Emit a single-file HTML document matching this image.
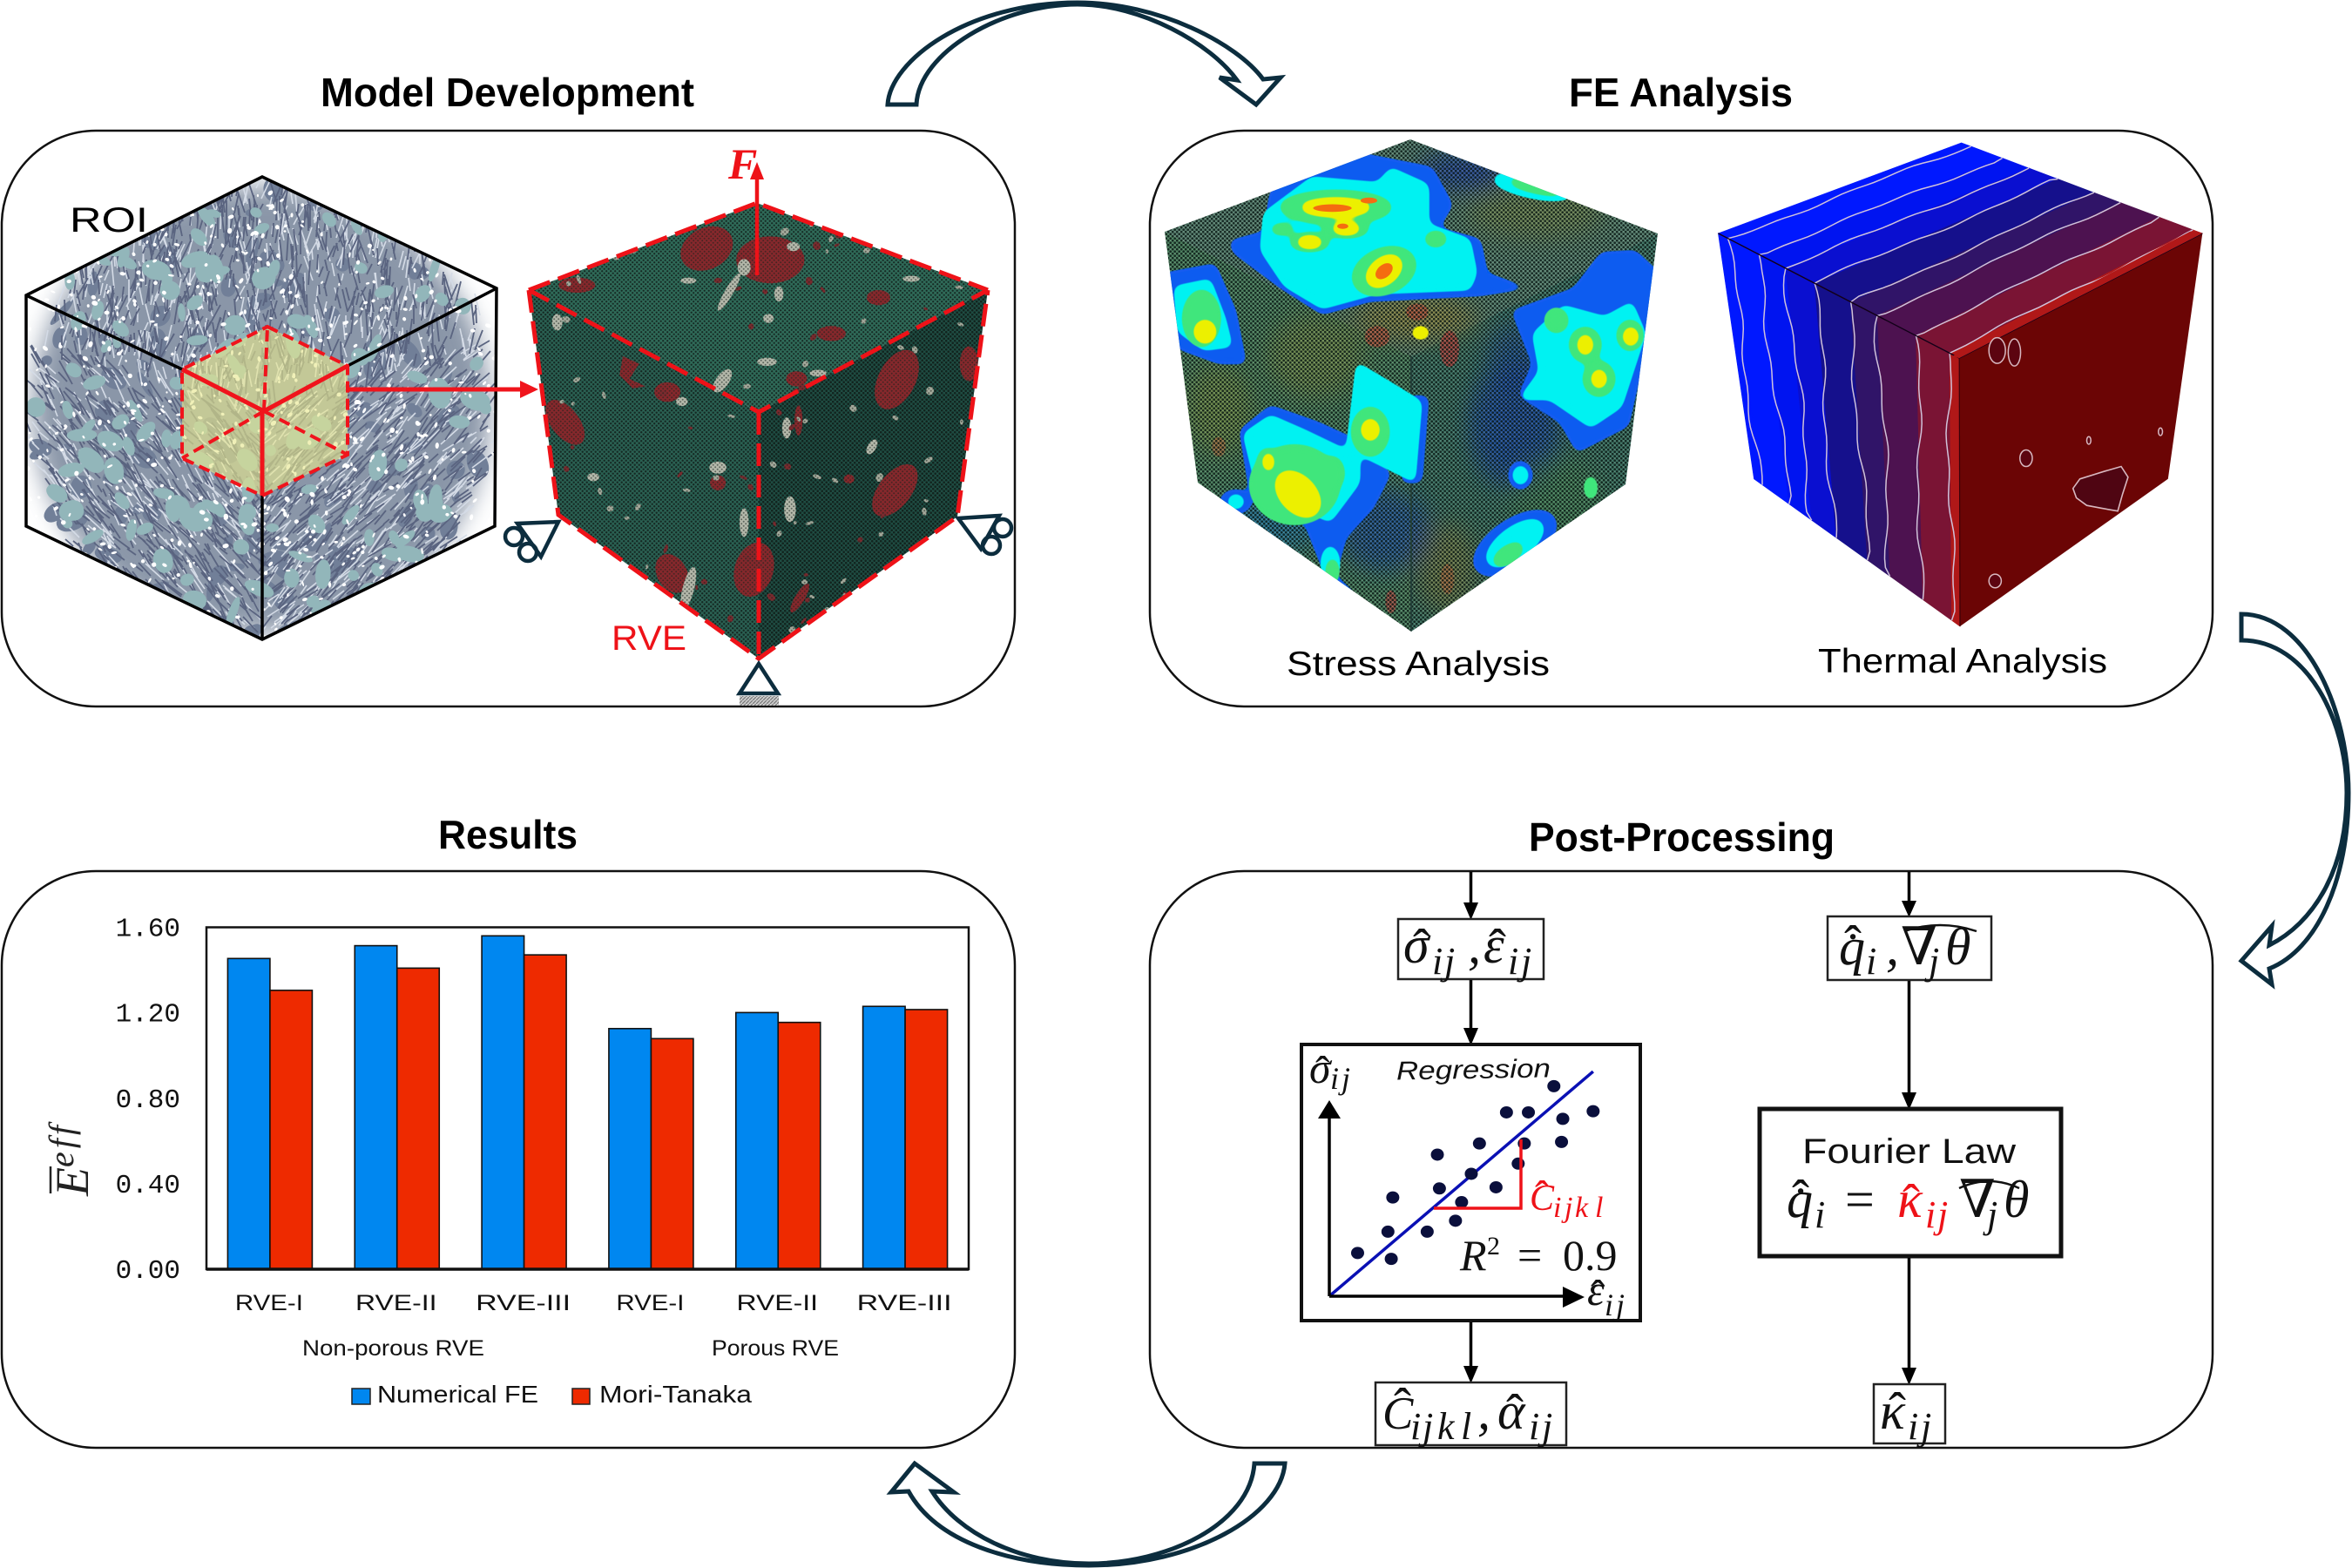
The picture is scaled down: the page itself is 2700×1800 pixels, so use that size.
<!DOCTYPE html>
<html lang="en">
<head>
<meta charset="utf-8">
<title>Homogenization workflow</title>
<style>
html,body{margin:0;padding:0;background:#fff;width:2700px;height:1800px;overflow:hidden}
svg{display:block}
.title{font:bold 46px "Liberation Sans",sans-serif;fill:#000}
.tick{font:31px "Liberation Mono",monospace;fill:#111}
.lab{font:25px "Liberation Sans",sans-serif;fill:#111}
.cap{font:39px "Liberation Sans",sans-serif;fill:#000}
.math{font:italic 60px "Liberation Serif","DejaVu Serif",serif;fill:#111}
.sub{font-size:44px}
.up{font-style:normal}
.flow{stroke:#000;stroke-width:3.5;fill:none}
.box{fill:#fff;stroke:#222;stroke-width:2.5}
.curve{fill:#fff;stroke:#0c2d3e;stroke-width:5;stroke-linejoin:miter}
</style>
</head>
<body>
<svg id="root" xmlns="http://www.w3.org/2000/svg" width="2700" height="1800" viewBox="0 0 2700 1800">
<defs>
  <pattern id="meshTop" width="5" height="5" patternUnits="userSpaceOnUse"><rect width="5" height="5" fill="#2f6a58"/><circle cx="1.2" cy="1.2" r="1.1" fill="#16332c"/><circle cx="3.7" cy="3.7" r="1.1" fill="#16332c"/></pattern>
  <pattern id="meshLeft" width="5" height="5" patternUnits="userSpaceOnUse"><rect width="5" height="5" fill="#2a6052"/><circle cx="1.2" cy="1.2" r="1.2" fill="#15302a"/><circle cx="3.7" cy="3.7" r="1.2" fill="#15302a"/></pattern>
  <pattern id="meshRight" width="5" height="5" patternUnits="userSpaceOnUse"><rect width="5" height="5" fill="#1f4c42"/><circle cx="1.2" cy="1.2" r="1.3" fill="#0f2520"/><circle cx="3.7" cy="3.7" r="1.3" fill="#0f2520"/></pattern>
  <pattern id="meshDots" width="5" height="5" patternUnits="userSpaceOnUse"><circle cx="1.2" cy="1.2" r="1" fill="#16201c" opacity=".55"/><circle cx="3.7" cy="3.7" r="1" fill="#16201c" opacity=".55"/></pattern>
  <pattern id="meshStress" width="5" height="5" patternUnits="userSpaceOnUse"><circle cx="1.2" cy="1.2" r="1.3" fill="#0c1a16" opacity=".85"/><circle cx="3.7" cy="3.7" r="1.3" fill="#0c1a16" opacity=".85"/><circle cx="3.7" cy="1.2" r=".6" fill="#a8c8b4" opacity=".4"/></pattern>
  <pattern id="hatch" width="4" height="4" patternUnits="userSpaceOnUse"><rect width="4" height="4" fill="#ccc"/><path d="M0 4L4 0" stroke="#777" stroke-width="1.2"/></pattern>
  <filter id="softer" x="-30%" y="-30%" width="160%" height="160%"><feGaussianBlur stdDeviation="14"/></filter>
  <filter id="patchBlur" x="-40%" y="-40%" width="180%" height="180%"><feGaussianBlur stdDeviation="16 30"/></filter>
  <filter id="goo" x="-15%" y="-15%" width="130%" height="130%"><feGaussianBlur stdDeviation="6 12"/><feComponentTransfer><feFuncA type="linear" slope="9" intercept="-3.6"/></feComponentTransfer></filter>
  <clipPath id="roiClip"><polygon points="301,203 570,331 568,604 301,734 30,604 30,339"/></clipPath>
  <clipPath id="rveClip"><polygon points="869,233 1134,333 1099,593 871,756 641,591 607,333"/></clipPath>
  <clipPath id="stressClip"><polygon points="1619,160 1903,268 1866,556 1620,725 1375,554 1337,266"/></clipPath>
</defs>

<rect x="0" y="0" width="2700" height="1800" fill="#fff"/>

<!-- PANELS -->
<rect x="2" y="150" width="1163" height="661" rx="108" ry="108" fill="#fff" stroke="#111" stroke-width="2.5"/>
<rect x="1320" y="150" width="1220" height="661" rx="108" ry="108" fill="#fff" stroke="#111" stroke-width="2.5"/>
<rect x="2" y="1000" width="1163" height="662" rx="108" ry="108" fill="#fff" stroke="#111" stroke-width="2.5"/>
<rect x="1320" y="1000" width="1220" height="662" rx="108" ry="108" fill="#fff" stroke="#111" stroke-width="2.5"/>

<!-- TITLES -->
<text class="title" x="368" y="122" textLength="429" lengthAdjust="spacingAndGlyphs">Model Development</text>
<text class="title" x="1801" y="122" textLength="257" lengthAdjust="spacingAndGlyphs">FE Analysis</text>
<text class="title" x="503" y="974" textLength="160" lengthAdjust="spacingAndGlyphs">Results</text>
<text class="title" x="1755" y="977" textLength="351" lengthAdjust="spacingAndGlyphs">Post-Processing</text>

<!-- CURVED ARROWS -->
<path class="curve" d="M1019,120 C1022,70 1110,3 1237,3 C1330,3 1420,50 1450,91 L1470,89 L1442,120 L1400,89 L1420,92 C1390,50 1310,5 1237,5 C1150,5 1055,60 1052,120 Z"/>
<path class="curve" d="M2573,705 C2650,705 2696,820 2696,910 C2696,1010 2660,1090 2605,1112 L2608,1130 L2573,1103 L2608,1063 L2605,1085 C2655,1060 2694,1000 2694,910 C2694,830 2650,735 2573,735 Z"/>
<path class="curve" d="M1475,1680 C1470,1740 1370,1797 1250,1797 C1160,1797 1075,1770 1043,1712 L1023,1713 L1050,1680 L1095,1713 L1070,1712 C1100,1760 1170,1795 1250,1795 C1340,1795 1435,1750 1440,1680 Z"/>

<!-- ROI CUBE -->
<g id="roiGroup">
  <g clip-path="url(#roiClip)">
    <ellipse cx="300" cy="470" rx="262" ry="256" fill="#8a96a8" filter="url(#softer)"/>
    <path id="roiTeal2" fill="#717f98"/>
    <path id="roiLight" fill="none" stroke="#d4dbe6" stroke-width="1.6"/>
    <path id="roiDark" fill="none" stroke="#5a6480" stroke-width="1.8"/>
    <path id="roiTeal" fill="#92b6ba"/>
    <path id="roiSpeck" fill="#fff"/>
  </g>
  <polygon points="307,375 399,420 399,522 301,569 209,526 209,424" fill="#e6e68c" opacity=".62"/>
  <g fill="none" stroke="#000" stroke-width="3.5">
    <polygon points="301,203 570,331 568,604 301,734 30,604 30,339" stroke-linejoin="miter"/>
    <line x1="30" y1="339" x2="209" y2="424"/>
    <line x1="570" y1="331" x2="399" y2="420"/>
    <line x1="301" y1="569" x2="301" y2="734"/>
  </g>
  <g fill="none" stroke="#f0141c" stroke-width="4" stroke-dasharray="13 7">
    <polygon points="307,375 399,420 399,522 301,569 209,526 209,424"/>
    <line x1="303" y1="472" x2="307" y2="375"/>
    <line x1="303" y1="472" x2="399" y2="522"/>
    <line x1="303" y1="472" x2="209" y2="526"/>
  </g>
  <g stroke="#f0141c" stroke-width="5">
    <line x1="303" y1="472" x2="399" y2="420"/>
    <line x1="303" y1="472" x2="209" y2="424"/>
    <line x1="301" y1="472" x2="301" y2="569"/>
  </g>
</g>
<text x="80" y="266" font-family="Liberation Sans, sans-serif" font-size="40" textLength="90" lengthAdjust="spacingAndGlyphs" fill="#000">ROI</text>
<line x1="399" y1="447" x2="600" y2="447" stroke="#f0141c" stroke-width="5"/>
<polygon points="618,447 597,437 597,457" fill="#f0141c"/>

<!-- RVE CUBE -->
<g>
  <polygon points="869,233 1134,333 871,473 607,333" fill="url(#meshTop)"/>
  <polygon points="607,333 871,473 871,756 641,591" fill="url(#meshLeft)"/>
  <polygon points="871,473 1134,333 1099,593 871,756" fill="url(#meshRight)"/>
  <g clip-path="url(#rveClip)">
    <g transform="translate(0,140) scale(.7526,.4337)">
      <g fill="#86282c">
        <ellipse cx="1078" cy="335" rx="38" ry="60" transform="rotate(15 1078 335)"/>
        <ellipse cx="1175" cy="365" rx="52" ry="62"/>
        <ellipse cx="880" cy="432" rx="28" ry="20"/>
        <ellipse cx="1268" cy="560" rx="22" ry="20"/>
        <ellipse cx="1340" cy="465" rx="18" ry="20"/>
        <ellipse cx="1215" cy="680" rx="16" ry="20"/>
        <ellipse cx="862" cy="795" rx="24" ry="62" transform="rotate(-18 862 795)"/>
        <path d="M950 620 L975 640 L960 680 L985 700 L965 705 L945 670 Z"/>
        <ellipse cx="1018" cy="715" rx="20" ry="26"/>
        <ellipse cx="1025" cy="1195" rx="24" ry="52" transform="rotate(-10 1025 1195)"/>
        <ellipse cx="1150" cy="1185" rx="30" ry="72" transform="rotate(6 1150 1185)"/>
        <ellipse cx="1095" cy="955" rx="12" ry="20"/>
        <ellipse cx="1368" cy="682" rx="30" ry="80" transform="rotate(12 1368 682)"/>
        <ellipse cx="1365" cy="975" rx="28" ry="72" transform="rotate(18 1365 975)"/>
        <ellipse cx="1478" cy="640" rx="14" ry="46"/>
        <ellipse cx="1218" cy="790" rx="6" ry="40"/>
        <ellipse cx="1220" cy="1260" rx="8" ry="40" transform="rotate(18 1220 1260)"/>
        <ellipse cx="1295" cy="945" rx="8" ry="12"/>
      </g>
      <g fill="#b4b8aa">
        <ellipse cx="1112" cy="450" rx="7" ry="52" transform="rotate(18 1112 450)"/>
        <ellipse cx="1135" cy="385" rx="10" ry="22"/>
        <ellipse cx="1188" cy="455" rx="7" ry="20"/>
        <ellipse cx="1170" cy="635" rx="15" ry="11"/>
        <ellipse cx="1248" cy="665" rx="13" ry="9"/>
        <ellipse cx="1102" cy="685" rx="11" ry="32" transform="rotate(18 1102 685)"/>
        <ellipse cx="1172" cy="520" rx="8" ry="12"/>
        <ellipse cx="1050" cy="420" rx="12" ry="8"/>
        <ellipse cx="1390" cy="415" rx="13" ry="8"/>
        <ellipse cx="1210" cy="330" rx="10" ry="12"/>
        <ellipse cx="1095" cy="915" rx="13" ry="16"/>
        <ellipse cx="1050" cy="1235" rx="9" ry="58" transform="rotate(8 1050 1235)"/>
        <ellipse cx="1135" cy="1060" rx="7" ry="38"/>
        <ellipse cx="1205" cy="1025" rx="9" ry="34"/>
        <ellipse cx="1330" cy="860" rx="7" ry="20" transform="rotate(15 1330 860)"/>
        <ellipse cx="1040" cy="740" rx="9" ry="12"/>
        <ellipse cx="905" cy="940" rx="9" ry="11"/>
        <ellipse cx="850" cy="530" rx="8" ry="22"/>
        <ellipse cx="1200" cy="810" rx="7" ry="28"/>
      </g>
    </g>
    <path id="rveRed" fill="#7a2a2e"/>
    <path id="rveGrey" fill="#a3a89a"/>
    <polygon points="869,233 1134,333 1099,593 871,756 641,591 607,333" fill="url(#meshDots)"/>
  </g>
  <g fill="none" stroke="#ee1218" stroke-width="5" stroke-dasharray="26 10">
    <polyline points="607,333 869,233 1134,333"/>
    <polyline points="607,333 871,473 1134,333"/>
    <polyline points="607,333 641,591 871,756 1099,593 1134,333"/>
    <line x1="871" y1="473" x2="871" y2="756"/>
  </g>
</g>
<line x1="869" y1="316" x2="869" y2="200" stroke="#ee1218" stroke-width="4.5"/>
<polygon points="869,186 861,206 877,206" fill="#ee1218"/>
<text x="836" y="205" font-family="Liberation Serif, serif" font-style="italic" font-weight="bold" font-size="50" fill="#ee1218">F</text>
<text x="702" y="746" font-family="Liberation Sans, sans-serif" font-size="40" textLength="86" lengthAdjust="spacingAndGlyphs" fill="#ee1218">RVE</text>
<g fill="none" stroke="#0c2d3e" stroke-width="4.5">
  <polygon points="871,762 849,796 893,796"/>
  <polygon points="641,599 594,601 621,639"/>
  <circle cx="590" cy="616" r="10"/><circle cx="606" cy="634" r="10"/>
  <polygon points="1100,595 1147,592 1126,630"/>
  <circle cx="1151" cy="606" r="10"/><circle cx="1138" cy="626" r="10"/>
</g>
<rect x="849" y="799" width="45" height="11" fill="url(#hatch)"/>

<!-- STRESS CUBE -->
<g>
  <polygon points="1619,160 1903,268 1620,409 1337,266" fill="#5a8070"/>
  <polygon points="1337,266 1620,409 1620,725 1375,554" fill="#4e8060"/>
  <polygon points="1620,409 1903,268 1866,556 1620,725" fill="#427566"/>
  <g clip-path="url(#stressClip)">
    <g transform="translate(1320,140) scale(.7908,.4337)" filter="url(#patchBlur)">
      <ellipse cx="100" cy="760" rx="50" ry="120" fill="#7e8a3c" opacity=".6"/>
      <ellipse cx="240" cy="620" rx="70" ry="110" fill="#84883e" opacity=".55"/>
      <ellipse cx="430" cy="1180" rx="45" ry="120" fill="#8a7e3a" opacity=".6"/>
      <ellipse cx="560" cy="240" rx="100" ry="70" fill="#84883c" opacity=".5"/>
      <ellipse cx="530" cy="800" rx="65" ry="170" fill="#1e4aa0" opacity=".85"/>
      <ellipse cx="340" cy="1080" rx="65" ry="110" fill="#2050a0" opacity=".75"/>
      <ellipse cx="385" cy="520" rx="90" ry="60" fill="#96863e" opacity=".75"/>
      <ellipse cx="590" cy="1000" rx="70" ry="120" fill="#508a50" opacity=".5"/>
      <ellipse cx="180" cy="1060" rx="80" ry="80" fill="#2070a0" opacity=".75"/>
      <ellipse cx="455" cy="130" rx="65" ry="50" fill="#2040a0" opacity=".8"/>
      <ellipse cx="540" cy="620" rx="50" ry="90" fill="#1e4aa0" opacity=".6"/>
    </g>
    <g transform="translate(1320,140) scale(.7908,.4337)">
      <ellipse cx="330" cy="568" rx="18" ry="28" fill="#b0503c" opacity=".8"/>
      <ellipse cx="388" cy="503" rx="16" ry="22" fill="#b0503c" opacity=".8"/>
      <ellipse cx="435" cy="600" rx="14" ry="48" fill="#b0403c" opacity=".8"/>
      <ellipse cx="350" cy="1270" rx="8" ry="30" fill="#b0403c" opacity=".7"/>
      <ellipse cx="432" cy="1210" rx="10" ry="40" fill="#b0603c" opacity=".6"/>
      <ellipse cx="100" cy="860" rx="10" ry="26" fill="#b0603c" opacity=".6"/>
    </g>
    <polygon points="1619,160 1903,268 1866,556 1620,725 1375,554 1337,266" fill="url(#meshStress)"/>
    <line x1="1620" y1="409" x2="1620" y2="725" stroke="#24403a" stroke-width="2"/>
    <g transform="translate(1320,140) scale(.7908,.4337)">
      <g fill="#0a5cf0" filter="url(#goo)">
        <polygon points="300,80 410,120 440,220 420,280 480,310 490,400 550,440 480,460 320,475 250,510 190,440 120,345 115,315 165,290 175,180"/>
        <polygon points="20,400 95,375 125,500 140,640 100,640 40,600"/>
        <polygon points="525,500 615,440 655,345 705,340 740,400 725,560 695,805 620,875 595,795 535,725 555,640"/>
        <polygon points="130,815 175,750 245,795 305,845 350,930 325,1020 285,1100 270,1200 310,1270 265,1250 225,1065 145,985"/>
        <polygon points="375,725 405,725 395,955 365,955"/>
        <ellipse cx="538" cy="935" rx="18" ry="38"/>
        <ellipse cx="530" cy="1115" rx="46" ry="96" transform="rotate(28 530 1115)"/>
        <ellipse cx="125" cy="1005" rx="24" ry="32"/>
        <ellipse cx="375" cy="145" rx="38" ry="36"/>
      </g>
      <g fill="#00f2f2" filter="url(#goo)">
        <polygon points="235,145 330,160 350,120 405,165 405,270 465,310 475,400 465,445 330,455 250,495 195,435 160,340 165,240"/>
        <polygon points="35,435 88,415 110,520 120,595 78,605 40,555"/>
        <polygon points="555,560 600,485 660,515 700,475 720,560 685,755 640,810 580,735 535,735 565,660"/>
        <polygon points="300,635 355,695 395,740 385,955 330,905 285,865"/>
        <polygon points="135,825 175,775 225,815 305,885 305,955 262,1060 155,975"/>
        <ellipse cx="538" cy="935" rx="12" ry="26"/>
        <ellipse cx="530" cy="1115" rx="30" ry="70" transform="rotate(28 530 1115)"/>
        <ellipse cx="125" cy="1005" rx="13" ry="20"/>
        <ellipse cx="555" cy="172" rx="62" ry="28" transform="rotate(25 555 172)"/>
        <ellipse cx="262" cy="1170" rx="14" ry="48"/>
      </g>
      <g fill="#3fe67c" filter="url(#goo)">
        <ellipse cx="270" cy="226" rx="82" ry="46"/>
        <ellipse cx="285" cy="282" rx="34" ry="26"/>
        <ellipse cx="232" cy="318" rx="30" ry="26"/>
        <ellipse cx="340" cy="395" rx="44" ry="68" transform="rotate(18 340 395)"/>
        <ellipse cx="192" cy="284" rx="18" ry="16"/>
        <ellipse cx="415" cy="310" rx="17" ry="22"/>
        <ellipse cx="75" cy="520" rx="28" ry="76"/>
        <ellipse cx="632" cy="590" rx="24" ry="48"/>
        <ellipse cx="652" cy="680" rx="24" ry="48"/>
        <ellipse cx="590" cy="525" rx="18" ry="34"/>
        <ellipse cx="697" cy="565" rx="20" ry="42"/>
        <ellipse cx="320" cy="820" rx="28" ry="66"/>
        <ellipse cx="210" cy="960" rx="66" ry="106"/>
        <ellipse cx="265" cy="930" rx="18" ry="46"/>
        <ellipse cx="170" cy="900" rx="15" ry="38"/>
        <ellipse cx="520" cy="1145" rx="17" ry="36" transform="rotate(28 520 1145)"/>
        <ellipse cx="640" cy="968" rx="10" ry="32"/>
        <ellipse cx="265" cy="1190" rx="10" ry="36"/>
        <ellipse cx="560" cy="172" rx="44" ry="16" transform="rotate(25 560 172)"/>
      </g>
      <g fill="#ecf000" filter="url(#goo)">
        <ellipse cx="270" cy="226" rx="52" ry="26"/>
        <ellipse cx="285" cy="282" rx="22" ry="18"/>
        <ellipse cx="232" cy="318" rx="20" ry="18"/>
        <ellipse cx="340" cy="395" rx="24" ry="46" transform="rotate(18 340 395)"/>
        <ellipse cx="80" cy="555" rx="17" ry="32"/>
        <ellipse cx="632" cy="590" rx="12" ry="28"/>
        <ellipse cx="652" cy="680" rx="12" ry="26"/>
        <ellipse cx="698" cy="568" rx="12" ry="26"/>
        <ellipse cx="320" cy="815" rx="14" ry="30"/>
        <ellipse cx="215" cy="985" rx="30" ry="64" transform="rotate(-15 215 985)"/>
        <ellipse cx="172" cy="900" rx="9" ry="26"/>
        <ellipse cx="393" cy="558" rx="14" ry="18"/>
      </g>
      <g fill="#f56c10">
        <ellipse cx="265" cy="228" rx="28" ry="10"/>
        <ellipse cx="318" cy="208" rx="12" ry="8"/>
        <ellipse cx="280" cy="276" rx="8" ry="7"/>
        <ellipse cx="340" cy="395" rx="11" ry="22" transform="rotate(18 340 395)"/>
      </g>
    </g>
  </g>
</g>

<!-- THERMAL CUBE -->
<g id="thermalGroup"></g>

<text class="cap" x="1477" y="775" textLength="302" lengthAdjust="spacingAndGlyphs">Stress Analysis</text>
<text class="cap" x="2087" y="772" textLength="332" lengthAdjust="spacingAndGlyphs">Thermal Analysis</text>

<!-- BAR CHART -->
<g id="chart"></g>
<g transform="translate(101,1373) rotate(-90)">
  <text font-family="Liberation Serif, serif" font-style="italic" font-size="54" fill="#222">E<tspan font-size="40" dy="-17" letter-spacing="4">eff</tspan></text>
  <line x1="3" y1="-43" x2="34" y2="-43" stroke="#222" stroke-width="2.5"/>
</g>

<!-- POST PROCESSING FLOW -->
<g>
  <g class="flow">
    <line x1="1688.5" y1="1001" x2="1688.5" y2="1040"/>
    <line x1="1688.5" y1="1124" x2="1688.5" y2="1184"/>
    <line x1="1688.5" y1="1516" x2="1688.5" y2="1572"/>
    <line x1="2191.5" y1="1001" x2="2191.5" y2="1038"/>
    <line x1="2191.5" y1="1125" x2="2191.5" y2="1258"/>
    <line x1="2191.5" y1="1442" x2="2191.5" y2="1574"/>
  </g>
  <g fill="#000">
    <polygon points="1688.5,1056 1680,1036 1697,1036"/>
    <polygon points="1688.5,1200 1680,1180 1697,1180"/>
    <polygon points="1688.5,1588 1680,1568 1697,1568"/>
    <polygon points="2191.5,1053 2183,1034 2200,1034"/>
    <polygon points="2191.5,1274 2183,1254 2200,1254"/>
    <polygon points="2191.5,1590 2183,1570 2200,1570"/>
  </g>
  <rect class="box" x="1605" y="1055" width="167" height="69"/>
  <text class="math"><tspan x="1611" y="1105">σ</tspan><tspan class="up" x="1622" y="1108">ˆ</tspan><tspan class="sub" x="1644 1658" y="1118">ij</tspan><tspan x="1685" y="1105">,</tspan><tspan x="1703" y="1105">ε</tspan><tspan class="up" x="1709" y="1108">ˆ</tspan><tspan class="sub" x="1731 1746" y="1118">ij</tspan></text>
  <rect class="box" x="2098" y="1052" width="188" height="73"/>
  <text class="math"><tspan x="2111" y="1107">q</tspan><tspan class="up" x="2117" y="1104">ˆ</tspan><tspan class="up" x="2117" y="1112">˙</tspan><tspan class="sub" x="2142" y="1118">i</tspan><tspan x="2165" y="1107">,</tspan><tspan class="up" x="2182" y="1107">∇</tspan><tspan class="sub" x="2214" y="1118">j</tspan><tspan x="2233" y="1107">θ</tspan></text>
  <path d="M2186,1069 Q2227,1055 2269,1069" fill="none" stroke="#111" stroke-width="2.5"/>

  <rect x="1494" y="1199" width="389" height="317" fill="#fff" stroke="#111" stroke-width="4"/>
  <g id="regression"></g>
  <text x="1603" y="1238" font-family="Liberation Sans, sans-serif" font-style="italic" font-size="30" textLength="177" lengthAdjust="spacingAndGlyphs" transform="rotate(-1 1690 1230)" fill="#111">Regression</text>
  <text class="math" style="font-size:50px"><tspan x="1503" y="1243">σ</tspan><tspan class="up" x="1510" y="1247">ˆ</tspan><tspan x="1527 1540" y="1250" style="font-size:36px">ij</tspan></text>
  <text class="math" style="font-size:50px"><tspan x="1822" y="1498">ε</tspan><tspan class="up" x="1826" y="1504">ˆ</tspan><tspan x="1842 1855" y="1510" style="font-size:36px">ij</tspan></text>
  <text class="math" style="font-size:50px"><tspan x="1676" y="1458">R</tspan><tspan class="up" x="1707" y="1440" style="font-size:30px">2</tspan><tspan class="up" x="1742" y="1458">=</tspan><tspan class="up" x="1794" y="1458">0.9</tspan></text>
  <text class="math" style="font-size:50px;fill:#ee1218"><tspan x="1756" y="1389" style="font-size:42px">C</tspan><tspan class="up" x="1762" y="1390">ˆ</tspan><tspan x="1783 1796 1808 1831" y="1397" style="font-size:34px">ijkl</tspan></text>

  <rect class="box" x="1579" y="1587" width="219" height="72"/>
  <text class="math"><tspan x="1587" y="1640" style="font-size:53px">C</tspan><tspan class="up" x="1600" y="1635">ˆ</tspan><tspan class="sub" x="1619 1633 1650 1677" y="1652">ijkl</tspan><tspan x="1696" y="1640">,</tspan><tspan x="1719" y="1640">α</tspan><tspan class="up" x="1729" y="1642">ˆ</tspan><tspan class="sub" x="1755 1770" y="1652">ij</tspan></text>
  <rect x="2020" y="1273" width="346" height="169" fill="#fff" stroke="#111" stroke-width="5"/>
  <text x="2069" y="1335" font-family="Liberation Sans, sans-serif" font-size="40" textLength="245" lengthAdjust="spacingAndGlyphs" fill="#111">Fourier Law</text>
  <text class="math"><tspan x="2051" y="1397">q</tspan><tspan class="up" x="2057" y="1396">ˆ</tspan><tspan class="up" x="2057" y="1404">˙</tspan><tspan class="sub" x="2083" y="1409">i</tspan><tspan class="up" x="2118" y="1397">=</tspan><tspan x="2178" y="1397" fill="#ee1218">κ</tspan><tspan class="up" x="2184" y="1401" fill="#ee1218">ˆ</tspan><tspan class="sub" x="2210 2224" y="1409" fill="#ee1218">ij</tspan><tspan class="up" x="2249" y="1397">∇</tspan><tspan class="sub" x="2281" y="1409">j</tspan><tspan x="2300" y="1397">θ</tspan></text>
  <path d="M2249,1364 Q2284,1348 2318,1364" fill="none" stroke="#111" stroke-width="2.5"/>
  <rect class="box" x="2151" y="1589" width="82" height="68"/>
  <text class="math"><tspan x="2158" y="1640">κ</tspan><tspan class="up" x="2168" y="1640">ˆ</tspan><tspan class="sub" x="2190 2205" y="1652">ij</tspan></text>
</g>

<script>
// ---- bar chart data ----
const categories = ['RVE-I','RVE-II','RVE-III','RVE-I','RVE-II','RVE-III'];
const numericalFE = [1.454,1.514,1.56,1.126,1.201,1.23];
const moriTanaka = [1.305,1.409,1.471,1.079,1.155,1.215];
const yTickValues = [0,0.4,0.8,1.2,1.6];
const yTickLabels = ['0.00','0.40','0.80','1.20','1.60'];
const groupLabels = ['Non-porous RVE','Porous RVE'];
const seriesNames = ['Numerical FE','Mori-Tanaka'];

// ---- regression scatter data (normalised strain / stress) ----
const strainValues = [.111,.243,.230,.384,.495,.249,.432,.519,.654,.557,.424,.741,.589,.765,.911,.695,.781,.916,1.035,.881];
const stressValues = [.221,.191,.330,.330,.386,.505,.551,.481,.557,.626,.724,.678,.781,.781,.789,.940,.940,.907,.946,1.074];
const fitStrain = [0,1.035];
const fitStress = [0,1.149];

const NS = 'http://www.w3.org/2000/svg';
function mk(tag, parent, attrs){
  const el = document.createElementNS(NS, tag);
  for (const k in attrs) el.setAttribute(k, attrs[k]);
  parent.appendChild(el);
  return el;
}

// ---- chart ----
const chart = document.getElementById('chart');
const plotL = 237, plotR = 1112, plotT = 1064.5, plotB = 1457;
const yMax = 1.6;
function yScale(v){ return plotB - v / yMax * (plotB - plotT); }
function xScale(i){ return plotL + (plotR - plotL) * (i + 0.5) / categories.length; }
const barW = 48.5;

const frame = mk('rect', chart, {x:plotL, y:plotT, width:plotR-plotL, height:plotB-plotT, fill:'#fff', stroke:'#111', 'stroke-width':2.5});



categories.forEach(function(cat, i){
  const c = xScale(i);
  const blue = mk('rect', chart, {x:c-barW, y:yScale(numericalFE[i]), width:barW, height:plotB-yScale(numericalFE[i]), fill:'#0087f0', stroke:'#111', 'stroke-width':1.6});
  
  
  const red = mk('rect', chart, {x:c, y:yScale(moriTanaka[i]), width:barW, height:plotB-yScale(moriTanaka[i]), fill:'#ee2a00', stroke:'#111', 'stroke-width':1.6});
  
  
  const lab = mk('text', chart, {x:c-1, y:1504, 'text-anchor':'middle', 'class':'lab', textLength:78 + (cat.length-5)*15.5, lengthAdjust:'spacingAndGlyphs'});
  lab.textContent = cat;
  
  
});
const baseLine = mk('line', chart, {x1:plotL, x2:plotR, y1:plotB, y2:plotB, stroke:'#111', 'stroke-width':3.5});



yTickValues.forEach(function(v, i){
  const t = mk('text', chart, {x:207, y:yScale(v)+10, 'text-anchor':'end', 'class':'tick'});
  t.textContent = yTickLabels[i];
  
  
});

const g0 = mk('text', chart, {x:347, y:1556, 'class':'lab', textLength:209, lengthAdjust:'spacingAndGlyphs'});
g0.textContent = groupLabels[0];


const g1 = mk('text', chart, {x:817, y:1556, 'class':'lab', textLength:146, lengthAdjust:'spacingAndGlyphs'});
g1.textContent = groupLabels[1];



const sw0 = mk('rect', chart, {x:404, y:1594, width:21, height:18, fill:'#0087f0', stroke:'#222', 'stroke-width':1.5});


const lg0 = mk('text', chart, {x:433, y:1610, 'class':'lab', textLength:185, lengthAdjust:'spacingAndGlyphs', style:'font-size:28px'});
lg0.textContent = seriesNames[0];


const sw1 = mk('rect', chart, {x:657, y:1594, width:20, height:18, fill:'#ee2a00', stroke:'#222', 'stroke-width':1.5});


const lg1 = mk('text', chart, {x:688, y:1610, 'class':'lab', textLength:175, lengthAdjust:'spacingAndGlyphs', style:'font-size:28px'});
lg1.textContent = seriesNames[1];



// ---- regression plot ----
const reg = document.getElementById('regression');
const regX0 = 1526, regY0 = 1488, regXLen = 292.6, regYLen = 224.5;
function strainX(v){ return regX0 + v * regXLen; }
function stressY(v){ return regY0 - v * regYLen; }

const fitLine = mk('line', reg, {x1:strainX(fitStrain[0]), y1:stressY(fitStress[0]), x2:strainX(fitStrain[1]), y2:stressY(fitStress[1]), stroke:'#0a10b4', 'stroke-width':3.5});


const xAxisReg = mk('line', reg, {x1:regX0, y1:regY0, x2:1800, y2:regY0, stroke:'#000', 'stroke-width':3.5});


const yAxisReg = mk('line', reg, {x1:regX0, y1:regY0, x2:regX0, y2:1280, stroke:'#000', 'stroke-width':3.5});


const xHead = mk('polygon', reg, {points:'1819,1489 1794,1477 1794,1501', fill:'#000'});


const yHead = mk('polygon', reg, {points:'1526,1263 1513,1284 1539,1284', fill:'#000'});


strainValues.forEach(function(v, i){
  const d = mk('ellipse', reg, {cx:strainX(v), cy:stressY(stressValues[i]), rx:7.5, ry:7, fill:'#0a0f3c'});
  
  
});
const slopeMark = mk('path', reg, {d:'M1646,1387 H1746 V1308', fill:'none', stroke:'#ee1218', 'stroke-width':3.5});



// ---- decorative textures (fixed-seed) ----
let seed = 12345;
function rnd(){ seed = (seed * 16807) % 2147483647; return seed / 2147483647; }
function ell(cx, cy, rx, ry, rot){
  const c = Math.cos(rot), s = Math.sin(rot), r = (rot * 180 / Math.PI).toFixed(0);
  const dx = rx * c, dy = rx * s;
  return 'M' + (cx-dx).toFixed(1) + ' ' + (cy-dy).toFixed(1) +
    'A' + rx.toFixed(1) + ' ' + ry.toFixed(1) + ' ' + r + ' 1 0 ' + (cx+dx).toFixed(1) + ' ' + (cy+dy).toFixed(1) +
    'A' + rx.toFixed(1) + ' ' + ry.toFixed(1) + ' ' + r + ' 1 0 ' + (cx-dx).toFixed(1) + ' ' + (cy-dy).toFixed(1) + 'Z';
}
function inCloud(x, y){
  const a = (x-300)/262, b = (y-470)/256;
  return a*a + b*b < 0.92 + rnd()*0.2;
}
let dDark = '', dLight = '', dTeal = '', dTeal2 = '', dSpeck = '';
for (let i = 0; i < 3600; i++){
  const x = 30 + rnd()*540, y = 203 + rnd()*531;
  if (!inCloud(x, y)) continue;
  let ang;
  if (y < 470 - Math.abs(x-300)*0.3) ang = 1.2 + rnd()*0.9;
  else if (x < 301) ang = 0.6 + rnd()*0.6;
  else ang = 2.1 + rnd()*0.5;
  const len = 4 + rnd()*12;
  const seg = 'M' + (x-Math.cos(ang)*len).toFixed(0) + ' ' + (y-Math.sin(ang)*len).toFixed(0) + 'L' + (x+Math.cos(ang)*len).toFixed(0) + ' ' + (y+Math.sin(ang)*len).toFixed(0);
  if (rnd() < 0.6) dDark += seg; else dLight += seg;
}
for (let i = 0; i < 170; i++){
  const x = 30 + rnd()*540, y = 203 + rnd()*531;
  if (!inCloud(x, y)) continue;
  dTeal += ell(x, y, 5 + rnd()*13, 4 + rnd()*8, rnd()*3.14);
}
for (let i = 0; i < 160; i++){
  const x = 30 + rnd()*540, y = 203 + rnd()*531;
  if (!inCloud(x, y)) continue;
  dTeal2 += ell(x, y, 5 + rnd()*14, 4 + rnd()*9, rnd()*3.14);
}
for (let i = 0; i < 800; i++){
  const x = 30 + rnd()*540, y = 203 + rnd()*531;
  dSpeck += ell(x, y, 1 + rnd()*2.6, 1 + rnd()*1.4, rnd()*3.14);
}
document.getElementById('roiDark').setAttribute('d', dDark);
document.getElementById('roiLight').setAttribute('d', dLight);
document.getElementById('roiTeal').setAttribute('d', dTeal);
document.getElementById('roiTeal2').setAttribute('d', dTeal2);
document.getElementById('roiSpeck').setAttribute('d', dSpeck);

let dRed = '', dGrey = '';
for (let i = 0; i < 130; i++){
  const x = 610 + rnd()*520, y = 235 + rnd()*520;
  const e = ell(x, y, 1.5 + rnd()*4, 1.5 + rnd()*2.5, rnd()*3.14);
  if (rnd() < 0.5) dRed += e; else dGrey += e;
}
document.getElementById('rveRed').setAttribute('d', dRed);
document.getElementById('rveGrey').setAttribute('d', dGrey);

// ---- thermal cube (interpolated faces) ----
const th = document.getElementById('thermalGroup');
function Z(x, y){ return [1320 + x * 0.7908, 140 + y * 0.4337]; }
const tL = Z(825,295), tT = Z(1178,55), tR = Z(1528,295), tC = Z(1175,625), tB = Z(1176,1335), tLB = Z(877,945), tRB = Z(1478,945);
function lerp(a, b, t){ return [a[0] + (b[0]-a[0])*t, a[1] + (b[1]-a[1])*t]; }
function pts(list){ return list.map(function(p){ return p[0].toFixed(1) + ',' + p[1].toFixed(1); }).join(' '); }
const bandBreaks = [0,.04,.17,.28,.40,.55,.66,.82,.96,1];
const bandColors = ['#0018ff','#0018ff','#0014f0','#0a0fd0','#15108c','#301468','#4d1250','#7a1434','#b01818'];
for (let i = 0; i < bandColors.length; i++){
  const a = bandBreaks[i], b = bandBreaks[i+1];
  const top = mk('polygon', th, {points:pts([lerp(tL,tC,a), lerp(tL,tC,b), lerp(tT,tR,b), lerp(tT,tR,a)]), fill:bandColors[i], stroke:bandColors[i], 'stroke-width':.6});
  
  
  const left = mk('polygon', th, {points:pts([lerp(tL,tC,a), lerp(tL,tC,b), lerp(tLB,tB,b), lerp(tLB,tB,a)]), fill:bandColors[i], stroke:bandColors[i], 'stroke-width':.6});
  
  
}
const rightFace = mk('polygon', th, {points:pts([tC,tR,tRB,tB]), fill:'#6b0505'});


function wavy(a, b, n, amp, ph, vertical){
  const out = [];
  for (let k = 0; k <= n; k++){
    const t = k / n;
    const p = lerp(a, b, t);
    const w = k === 0 || k === n ? 0 : amp * (Math.sin(t*7 + ph) + 0.5*Math.sin(t*23 + ph*2));
    out.push(vertical ? [p[0] + w, p[1]] : [p[0], p[1] + w]);
  }
  return out;
}
bandBreaks.slice(1, -1).forEach(function(t, i){
  const p = lerp(tL, tC, t);
  const q = lerp(tT, tR, t);
  const r = lerp(tLB, tB, t);
  const c1 = mk('polyline', th, {points:pts(wavy(p, q, 30, 2, i*1.3, false)), fill:'none', stroke:'#d0c2da', 'stroke-width':1.5});
  
  
  const c2 = mk('polyline', th, {points:pts(wavy(p, r, 30, 3.5, i*2.1, true)), fill:'none', stroke:'#d0c2da', 'stroke-width':1.5});
  
  
});
const edgeL = mk('polyline', th, {points:pts([tL,tC,tR]), fill:'none', stroke:'#120018', 'stroke-width':1.4});


const hotStrip = mk('polygon', th, {points:pts([tC, Z(1528,295), Z(1510,290), Z(1285,505), Z(1165,620)]), fill:'#b01818'});


const coldSpot = mk('polygon', th, {points:pts([Z(1350,945),Z(1385,925),Z(1410,912),Z(1420,940),Z(1412,985),Z(1405,1030),Z(1380,1022),Z(1360,1015),Z(1345,995),Z(1340,970)]), fill:'#4f0512', stroke:'#d8b8c0', 'stroke-width':1.6});


[[1272,890,9,22],[1363,843,3,10],[1467,820,3,10],[1227,1215,9,18],[1230,605,12,34],[1255,610,9,36]].forEach(function(s){
  const c = Z(s[0], s[1]);
  const o = mk('ellipse', th, {cx:c[0], cy:c[1], rx:s[2]*0.79, ry:s[3]*0.4337, fill:'#5c0410', stroke:'#d8b8c0', 'stroke-width':1.5});
  
  
});
const frontEdge = mk('line', th, {x1:tC[0], y1:tC[1], x2:tB[0], y2:tB[1], stroke:'#3a0008', 'stroke-width':1.2});


</script>
</svg>
</body>
</html>
